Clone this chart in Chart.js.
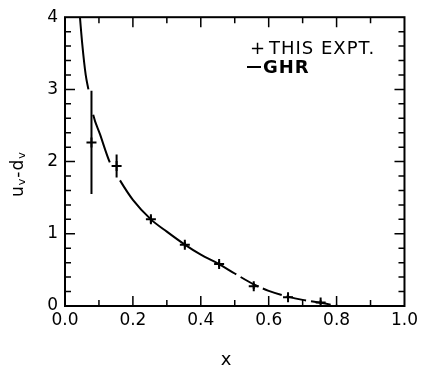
<!DOCTYPE html>
<html>
<head>
<meta charset="utf-8">
<script src="https://cdn.jsdelivr.net/npm/chart.js@4/dist/chart.umd.min.js"></script>
<style>
  html, body { margin: 0; padding: 0; background: #fff; }
</style>
</head>
<body>
<canvas id="chart" width="422" height="368"></canvas>
<script>
// GHR curve
const ghrX = [0.044, 0.051, 0.061, 0.069, 0.083, 0.103, 0.132, 0.162, 0.2, 0.253, 0.3, 0.353, 0.4, 0.454, 0.5, 0.556, 0.6, 0.657, 0.7, 0.753, 0.804];
const ghrY = [4.0, 3.62, 3.2, 3.0, 2.65, 2.38, 1.99, 1.74, 1.47, 1.2, 1.03, 0.85, 0.71, 0.58, 0.45, 0.3, 0.21, 0.13, 0.085, 0.045, 0.0];

// this experiment: points and errors
const exptX = [0.078, 0.152, 0.253, 0.353, 0.454, 0.556, 0.657, 0.753];
const exptY = [2.265, 1.94, 1.2, 0.85, 0.58, 0.275, 0.12, 0.05];
const exptErr = [0.715, 0.16, 0.05, 0.04, 0.04, 0.04, 0.03, 0.03];

const xTickLabels = ['0.0', '0.2', '0.4', '0.6', '0.8', '1.0'];
const yTickLabels = ['0', '1', '2', '3', '4'];

const FONT = '"DejaVu Sans", sans-serif';

// box round the plot with inward ticks on all four sides
const framePlugin = {
  id: 'frame',
  afterDraw(chart) {
    const { ctx, chartArea: a, scales: { x, y } } = chart;
    ctx.save();
    ctx.strokeStyle = '#000';
    ctx.lineWidth = 2;
    ctx.strokeRect(a.left, a.top, a.right - a.left, a.bottom - a.top);
    ctx.lineWidth = 1.5;
    ctx.beginPath();
    for (let i = 1; i < 10; i++) {
      const px = x.getPixelForValue(i / 10);
      const len = i % 2 === 0 ? 10 : 6;
      ctx.moveTo(px, a.bottom); ctx.lineTo(px, a.bottom - len);
      ctx.moveTo(px, a.top); ctx.lineTo(px, a.top + len);
    }
    for (let i = 1; i < 20; i++) {
      const py = y.getPixelForValue(i / 5);
      const len = i % 5 === 0 ? 10 : 6;
      ctx.moveTo(a.left, py); ctx.lineTo(a.left + len, py);
      ctx.moveTo(a.right, py); ctx.lineTo(a.right - len, py);
    }
    ctx.stroke();

    // axis titles
    ctx.fillStyle = '#000';
    ctx.textBaseline = 'alphabetic';
    ctx.font = '18px ' + FONT;
    ctx.textAlign = 'center';
    ctx.fillText('x', 226, 365);

    ctx.translate(23, 197);
    ctx.rotate(-Math.PI / 2);
    ctx.textAlign = 'left';
    let cx = 0;
    const parts = [['u', 17, 0], ['v', 11, 2], ['-', 17, 0], ['d', 17, 0], ['v', 11, 2]];
    for (const [t, size, dy] of parts) {
      ctx.font = size + 'px ' + FONT;
      ctx.fillText(t, cx, dy);
      cx += ctx.measureText(t).width + 1;
    }
    ctx.restore();

    // legend
    ctx.save();
    ctx.fillStyle = '#000';
    ctx.strokeStyle = '#000';
    ctx.textBaseline = 'alphabetic';
    ctx.textAlign = 'left';
    ctx.font = '18px ' + FONT;
    ctx.letterSpacing = '1px';
    ctx.fillText('+', 250, 54);
    ctx.fillText('THIS EXPT.', 269, 54);
    ctx.lineWidth = 2;
    ctx.beginPath();
    ctx.moveTo(247, 67); ctx.lineTo(261, 67);
    ctx.stroke();
    ctx.font = 'bold 18px ' + FONT;
    ctx.fillText('GHR', 263, 73);
    ctx.restore();
  }
};

// vertical error bars
const errorBarPlugin = {
  id: 'errorBars',
  afterDatasetsDraw(chart) {
    const { ctx, scales: { x, y } } = chart;
    ctx.save();
    ctx.strokeStyle = '#000';
    ctx.lineWidth = 2;
    ctx.beginPath();
    exptX.forEach((v, i) => {
      const px = x.getPixelForValue(v);
      ctx.moveTo(px, y.getPixelForValue(exptY[i] - exptErr[i]));
      ctx.lineTo(px, y.getPixelForValue(exptY[i] + exptErr[i]));
    });
    ctx.stroke();
    ctx.restore();
  }
};

const ctx = document.getElementById('chart').getContext('2d');

new Chart(ctx, {
  type: 'scatter',
  data: {
    datasets: [
      {
        label: 'THIS EXPT.',
        data: exptX.map((v, i) => ({ x: v, y: exptY[i] })),
        pointStyle: 'cross',
        pointRadius: 5,
        pointBorderWidth: 2,
        borderColor: '#000',
        backgroundColor: '#000',
        showLine: false
      },
      {
        label: 'GHR',
        data: ghrX.map((v, i) => ({ x: v, y: ghrY[i] })),
        showLine: true,
        pointRadius: 0,
        borderColor: '#000',
        borderWidth: 2,
        cubicInterpolationMode: 'monotone',
        segment: {
          // breaks where the curve meets the first two error bars
          borderColor: c => (c.p0DataIndex === 3 || c.p0DataIndex === 6) ? 'rgba(0,0,0,0)' : undefined,
          borderDash: c => c.p0.parsed.x >= 0.45 ? [20, 5] : undefined
        }
      }
    ]
  },
  options: {
    responsive: false,
    animation: false,
    layout: { padding: { top: 16, right: 17, left: 0, bottom: 0 } },
    plugins: {
      legend: { display: false },
      tooltip: { enabled: false }
    },
    scales: {
      x: {
        type: 'linear',
        min: 0,
        max: 1,
        grid: { display: false, drawTicks: false },
        border: { display: false },
        ticks: {
          stepSize: 0.2,
          autoSkip: false,
          maxRotation: 0,
          padding: 4,
          color: '#000',
          font: { family: FONT, size: 17 },
          callback: (v) => xTickLabels[Math.round(v * 5)]
        },
        afterFit: s => { s.height = 62; }
      },
      y: {
        min: 0,
        max: 4,
        grid: { display: false, drawTicks: false },
        border: { display: false },
        ticks: {
          stepSize: 1,
          padding: 7,
          color: '#000',
          font: { family: FONT, size: 17 },
          callback: (v) => yTickLabels[Math.round(v)]
        },
        afterFit: s => { s.width = 65; }
      }
    }
  },
  plugins: [errorBarPlugin, framePlugin]
});
</script>
</body>
</html>
